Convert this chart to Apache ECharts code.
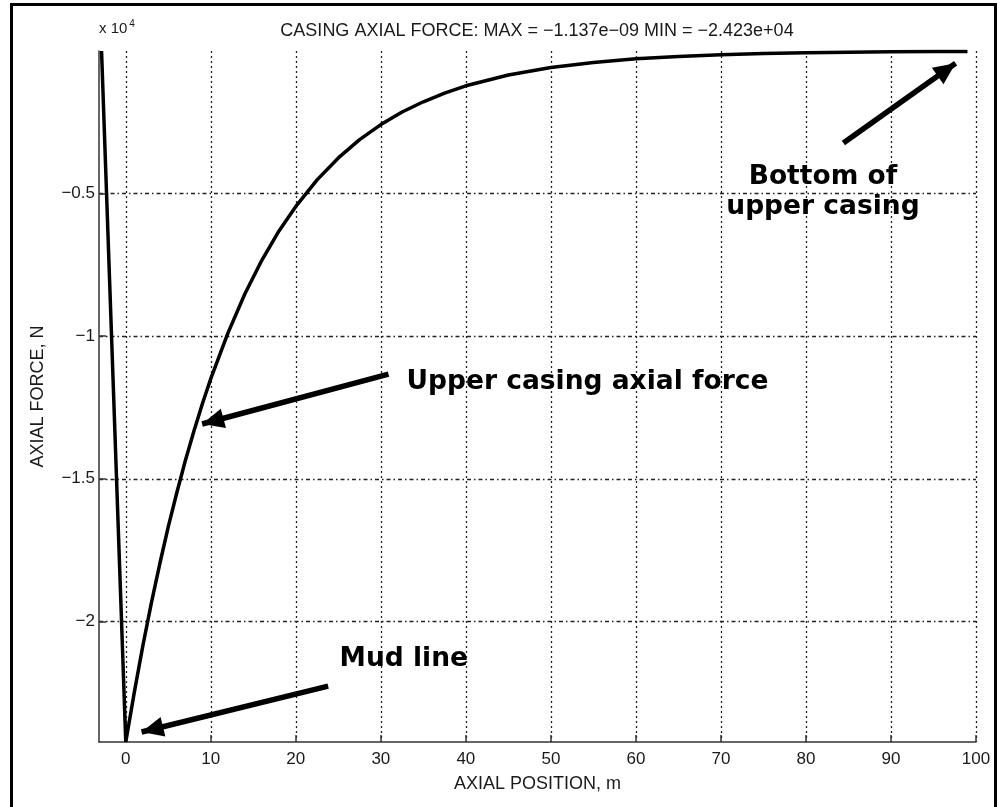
<!DOCTYPE html>
<html>
<head>
<meta charset="utf-8">
<script src="https://cdn.jsdelivr.net/npm/echarts@6/dist/echarts.min.js"></script>
<style>
html,body{margin:0;padding:0;background:#fff;}
#chart{width:999px;height:807px;}
</style>
</head>
<body>
<div id="chart"></div>
<script>
// axial position (m)
const axialPosition = [-2.85, 0, 1, 2, 3, 4, 5, 6, 7, 8, 9, 10, 12, 14, 16, 18, 20, 22.5, 25, 27.5, 30, 32.5, 35, 37.5, 40, 45, 50, 55, 60, 65, 70, 75, 80, 85, 90, 95, 99];
// axial force (N)
const axialForce = [-1.137e-9, -24230, -22490, -20870, -19370, -17980, -16680, -15490, -14370, -13340, -12380, -11490, -9900, -8520, -7340, -6320, -5450, -4520, -3750, -3110, -2580, -2140, -1780, -1480, -1220, -840, -580, -400, -275, -190, -130, -90, -62, -43, -29, -20, -14];
const xTickValues = [0, 10, 20, 30, 40, 50, 60, 70, 80, 90, 100];
const yTickValues = [-20000, -15000, -10000, -5000];
const titleText = 'CASING AXIAL FORCE: MAX = \u22121.137e\u221209 MIN = \u22122.423e+04';
const xName = 'AXIAL POSITION, m';
const yName = 'AXIAL FORCE, N';
// annotation arrows in data coordinates [x, force]
const arrowFrom = [[84.4, -3227], [30.9, -11330], [23.8, -22270]];
const arrowTo = [[97.6, -430], [8.98, -13080], [1.86, -23880]];
const noteTexts = ['Bottom of\nupper casing', 'Upper casing axial force', 'Mud line'];
const noteAt = [[82.0, -4965], [54.3, -11600], [32.7, -21330]];

const fmtMinus = s => String(s).replace(/-/g, '\u2212');
const chart = echarts.init(document.getElementById('chart'), null, {renderer: 'canvas'});
const seriesData = axialPosition.map((x, i) => [x, axialForce[i]]);
const textColor = '#1a1a1a';
const baseFont = 'Liberation Sans, Arial, Helvetica, sans-serif';

const option = {
  animation: false,
  backgroundColor: '#fff',
  grid: {left: 99, right: 23, top: 51, bottom: 65, containLabel: false},
  xAxis: {
    type: 'value', min: -3.15, max: 100,
    name: xName, nameLocation: 'middle', nameGap: 33,
    nameTextStyle: {color: textColor, fontSize: 18, fontFamily: baseFont},
    axisLine: {show: true, onZero: false, lineStyle: {color: '#333', width: 1.5}},
    axisTick: {show: true, inside: true, length: 7, customValues: xTickValues, lineStyle: {color: '#333', width: 1.5}},
    axisLabel: {customValues: xTickValues, color: textColor, fontSize: 17, fontFamily: baseFont, margin: 9, formatter: v => fmtMinus(v)},
    splitLine: {show: true, lineStyle: {color: '#222', width: 1.3, type: [2, 3]}}
  },
  yAxis: {
    type: 'value', min: -24230, max: 0,
    name: yName, nameLocation: 'middle', nameGap: 52,
    nameTextStyle: {color: textColor, fontSize: 18, fontFamily: baseFont},
    axisLine: {show: true, onZero: false, lineStyle: {color: '#333', width: 1.5}},
    axisTick: {show: true, inside: true, length: 7, customValues: yTickValues, lineStyle: {color: '#333', width: 1.5}},
    axisLabel: {customValues: yTickValues, color: textColor, fontSize: 17, fontFamily: baseFont, margin: 4,
      formatter: v => fmtMinus(+(v / 1e4).toFixed(2))},
    splitLine: {show: true, lineStyle: {color: '#222', width: 1.3, type: [4, 3, 1.5, 3]}}
  },
  graphic: [
    {type: 'rect', silent: true, shape: {x: 11.5, y: 4.5, width: 984, height: 830}, style: {fill: 'none', stroke: '#000', lineWidth: 3}},
    {type: 'text', silent: true, x: 537, y: 31, style: {text: titleText, fill: textColor, font: '18px ' + baseFont, textAlign: 'center', textVerticalAlign: 'middle'}},
    {type: 'text', silent: true, x: 99, y: 38, style: {text: 'x 10{s|4}', fill: textColor, font: '15px ' + baseFont, textAlign: 'left', textVerticalAlign: 'bottom',
      rich: {s: {fontSize: 10, fontFamily: baseFont, verticalAlign: 'top', padding: [0, 0, 9, 2]}}}}
  ],
  series: [{
    type: 'line',
    data: seriesData,
    showSymbol: false,
    smooth: false,
    lineStyle: {color: '#000', width: 3.5},
    z: 3,
    markLine: {
      silent: true, animation: false,
      symbol: ['none', 'triangle'],
      symbolSize: [20, 22],
      symbolOffset: [0, [0, 11]],
      label: {show: false},
      lineStyle: {color: '#000', width: 5.5, type: 'solid'},
      data: arrowFrom.map((f, i) => [{coord: f}, {coord: arrowTo[i]}])
    },
    markPoint: {
      silent: true, animation: false,
      symbol: 'circle', symbolSize: 1,
      itemStyle: {color: 'rgba(0,0,0,0)'},
      label: {show: true, position: 'inside', color: '#000', fontSize: 26.5, fontWeight: 'bold',
        fontFamily: 'DejaVu Sans, Verdana, sans-serif', lineHeight: 30, formatter: p => p.name},
      data: noteAt.map((c, i) => ({name: noteTexts[i], coord: c}))
    }
  }]
};
chart.setOption(option);
</script>
</body>
</html>
